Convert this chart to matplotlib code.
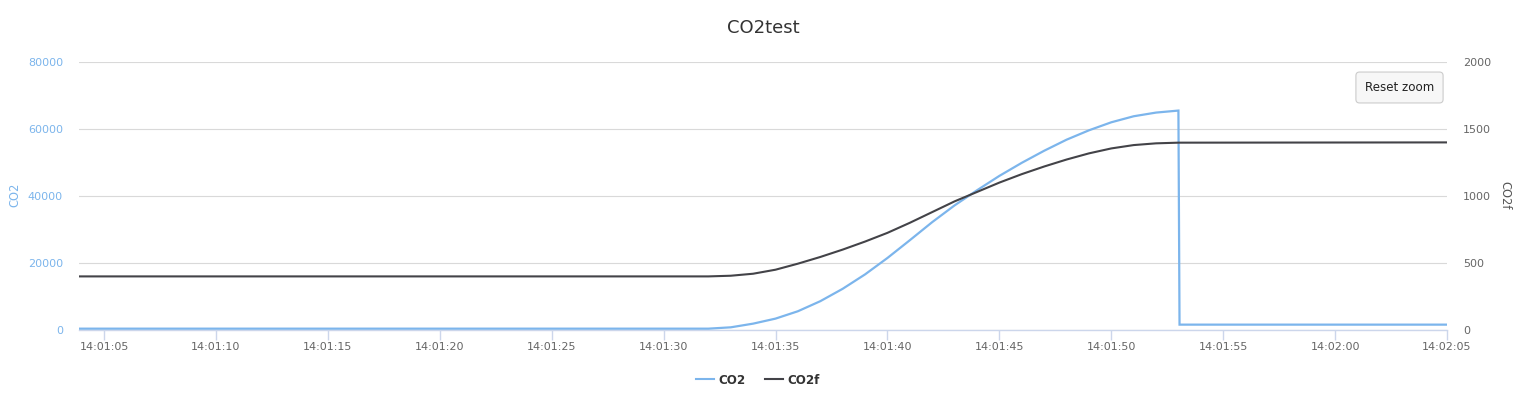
import matplotlib
matplotlib.use("Agg")
import matplotlib.pyplot as plt
import matplotlib.dates as mdates
from matplotlib.lines import Line2D
import pandas as pd

plt.rcParams['font.family'] = ['DejaVu Sans']

DAY = "2020-01-01 "

# ---- data ----
co2_times = ["14:01:03", "14:01:32", "14:01:33", "14:01:34", "14:01:35", "14:01:36",
             "14:01:37", "14:01:38", "14:01:39", "14:01:40", "14:01:41", "14:01:42",
             "14:01:43", "14:01:44", "14:01:45", "14:01:46", "14:01:47", "14:01:48",
             "14:01:49", "14:01:50", "14:01:51", "14:01:52", "14:01:53", "14:01:53.05",
             "14:02:05"]
co2_values = [400, 400, 800, 1900, 3400, 5600,
              8600, 12300, 16600, 21500, 26800, 32200,
              37200, 41700, 46000, 49900, 53500, 56800,
              59600, 62000, 63800, 64900, 65500, 1600,
              1600]

co2f_times = ["14:01:03", "14:01:32", "14:01:33", "14:01:34", "14:01:35", "14:01:36",
              "14:01:37", "14:01:38", "14:01:39", "14:01:40", "14:01:41", "14:01:42",
              "14:01:43", "14:01:44", "14:01:45", "14:01:46", "14:01:47", "14:01:48",
              "14:01:49", "14:01:50", "14:01:51", "14:01:52", "14:01:53", "14:02:05"]
co2f_values = [400, 400, 405, 420, 450, 495,
               545, 600, 660, 725, 800, 880,
               960, 1030, 1100, 1163, 1220, 1272,
               1318, 1355, 1380, 1393, 1398, 1400]

x_ticks = ["14:01:05", "14:01:10", "14:01:15", "14:01:20", "14:01:25", "14:01:30",
           "14:01:35", "14:01:40", "14:01:45", "14:01:50", "14:01:55", "14:02:00",
           "14:02:05"]
left_ticks = [0, 20000, 40000, 60000, 80000]
right_ticks = [0, 500, 1000, 1500, 2000]

# ---- styling ----
BLUE = "#7cb5ec"
DARK = "#434348"
GRID = "#d9d9d9"
AXIS = "#ccd6eb"
LABEL = "#666666"


def to_dt(strings):
    return pd.to_datetime([DAY + s for s in strings], format='mixed')


W, H = 1516, 396
fig = plt.figure(figsize=(W / 100, H / 100), dpi=100)
L, R, T, B = 79, 1447, 62, 330
ax = fig.add_axes([L / W, 1 - B / H, (R - L) / W, (B - T) / H])
ax2 = ax.twinx()

t1 = to_dt(co2_times)
t2 = to_dt(co2f_times)

ax.plot(t1, co2_values, color=BLUE, lw=1.6, solid_joinstyle='miter', zorder=3)
ax2.plot(t2, co2f_values, color=DARK, lw=1.5, zorder=3)

ax.set_xlim(pd.Timestamp(DAY + "14:01:03.88"), pd.Timestamp(DAY + "14:02:05"))
ax.set_ylim(0, 80000)
ax2.set_ylim(0, 2000)

ax.set_xticks(to_dt(x_ticks))
ax.xaxis.set_major_formatter(mdates.DateFormatter("%H:%M:%S"))
ax.set_yticks(left_ticks)
ax2.set_yticks(right_ticks)
ax.yaxis.set_major_formatter(matplotlib.ticker.FuncFormatter(lambda v, p: f"{int(v)}"))
ax2.yaxis.set_major_formatter(matplotlib.ticker.FuncFormatter(lambda v, p: f"{int(v)}"))

for a in (ax, ax2):
    for s in ("top", "left", "right"):
        a.spines[s].set_visible(False)
ax2.spines["bottom"].set_visible(False)
ax.spines["bottom"].set_color(AXIS)
ax.spines["bottom"].set_linewidth(1)

ax.grid(axis='y', color=GRID, lw=0.8)
ax.set_axisbelow(True)

ax.tick_params(axis='x', colors=AXIS, length=7, width=1, pad=2,
               labelcolor=LABEL, labelsize=8)
ax.tick_params(axis='y', length=0, pad=11.5, labelcolor=BLUE, labelsize=8)
ax2.tick_params(axis='y', length=0, pad=11.5, labelcolor=LABEL, labelsize=8)

# axis titles
fig.text(15 / W, 1 - 195 / H, "CO2", rotation=90, color=BLUE, fontsize=8.3,
         ha='center', va='center')
fig.text(1505 / W, 1 - 195 / H, "CO2f", rotation=270, color="#555555", fontsize=8.3,
         ha='center', va='center')

# title
fig.text(763 / W, 1 - 28 / H, "CO2test", color="#333333", fontsize=13,
         ha='center', va='center')

# legend
handles = [Line2D([], [], color=BLUE, lw=1.5), Line2D([], [], color=DARK, lw=1.5)]
fig.legend(handles, ["CO2", "CO2f"], loc='center', bbox_to_anchor=(758 / W, 1 - 380 / H),
           ncol=2, frameon=False, handlelength=1.5, handletextpad=0.4,
           columnspacing=1.6, prop={'weight': 'bold', 'size': 8.6},
           labelcolor="#333333")

# reset zoom button
fig.text(1399.5 / W, 1 - 87.5 / H, "Reset zoom", color="#222222", fontsize=8.6,
         ha='center', va='center',
         bbox=dict(boxstyle="round,pad=0.75,rounding_size=0.3", fc="#f7f7f7",
                   ec="#cccccc", lw=0.8))

fig.savefig("out.png", dpi=100)
